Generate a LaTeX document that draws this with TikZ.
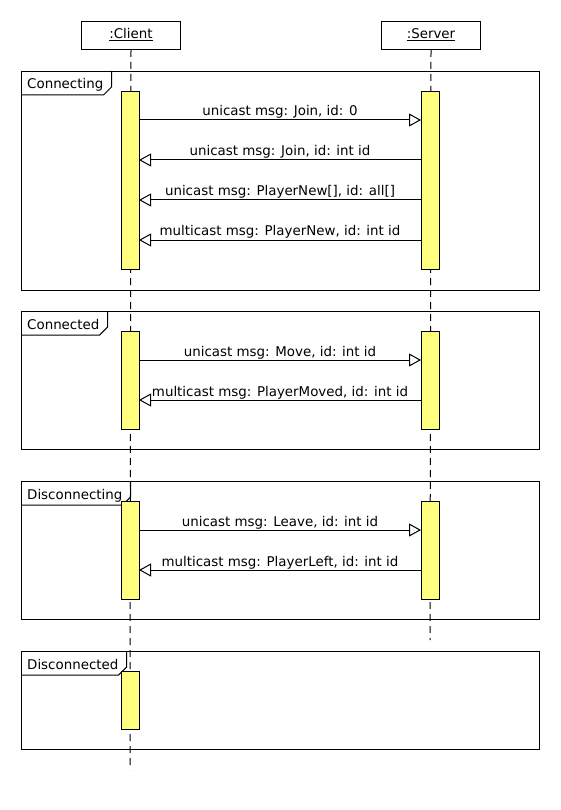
\documentclass[tikz,border=0pt]{standalone}
\usepackage{fontspec}
\setmainfont{DejaVu Sans}
\usetikzlibrary{arrows.meta,calc}
\definecolor{actyellow}{RGB}{255,255,128}
\begin{document}
\begin{tikzpicture}[x=1pt,y=-1pt,
  every node/.style={font=\fontsize{13.4}{16}\selectfont},
  frame/.style={draw,line width=1pt,minimum width=518pt,anchor=north west,inner sep=0pt},
  framelab/.style={anchor=base west,inner sep=0pt},
  obj/.style={draw,line width=1pt,minimum width=99pt,minimum height=28pt,anchor=north west,inner sep=0pt},
  act/.style={draw,line width=1pt,fill=actyellow,minimum width=18pt,anchor=north,inner sep=0pt},
  life/.style={line width=1pt,dash pattern=on 7pt off 5pt},
  msg/.style={line width=1pt,-{Triangle[length=12pt,width=13pt,fill=white]}},
  msglab/.style={midway,anchor=base,yshift=4pt,inner sep=0pt}]
\useasboundingbox (0,0) rectangle (560,810);
% frames
\node[frame,minimum height=219pt] (f1) at (21,71) {};
\node[frame,minimum height=138pt] (f2) at (21,311) {};
\node[frame,minimum height=138pt] (f3) at (21,481) {};
\node[frame,minimum height=98pt] (f4) at (21,651) {};
\node[framelab] (l1) at (27,89) {Connecting};
\node[framelab] (l2) at (27,329) {Connected};
\node[framelab] (l3) at (27,499) {Disconnecting};
\node[framelab] (l4) at (27,669) {Disconnected};
\foreach \f/\l in {f1/l1,f2/l2,f3/l3,f4/l4}{
  \draw[line width=1pt] let \p1=(\l.east), \p2=(\f.north west) in
    (\x2,\y2-24pt) -- (\x1-0pt,\y2-24pt) -- (\x1+8pt,\y2-16pt) -- (\x1+8pt,\y2);
}
% objects
\node[obj] (client) at (81,21) {};
\node[obj] (server) at (381,21) {};
\node[anchor=base,inner sep=0pt] (clientlab) at ($(client.center)+(0,3)$) {\underline{:Client}};
\node[anchor=base,inner sep=0pt] (serverlab) at ($(server.center)+(0,3)$) {\underline{:Server}};
\coordinate (clientend) at (130,770);
\coordinate (serverend) at (430,640);
\draw[life] (client.south) -- (clientend);
\draw[life] (server.south) -- (serverend);
% activations
\node[act,minimum height=178pt] (c1) at (130,91) {};
\node[act,minimum height=178pt] (s1) at (430,91) {};
\node[act,minimum height=98pt] (c2) at (130,331) {};
\node[act,minimum height=98pt] (s2) at (430,331) {};
\node[act,minimum height=98pt] (c3) at (130,501) {};
\node[act,minimum height=98pt] (s3) at (430,501) {};
\node[act,minimum height=58pt] (c4) at (130,671) {};
% message end points
\foreach \n/\y in {1/120,2/160,3/200,4/240,5/360,6/400,7/530,8/570}{
  \coordinate (a\n) at (139,\y);
  \coordinate (b\n) at (421,\y);
}
\draw[msg] (a1) -- (b1) node[msglab] (t1) {unicast msg: Join, id: 0};
\draw[msg] (b2) -- (a2) node[msglab] (t2) {unicast msg: Join, id: int id};
\draw[msg] (b3) -- (a3) node[msglab] (t3) {unicast msg: PlayerNew[], id: all[]};
\draw[msg] (b4) -- (a4) node[msglab] (t4) {multicast msg: PlayerNew, id: int id};
\draw[msg] (a5) -- (b5) node[msglab] (t5) {unicast msg: Move, id: int id};
\draw[msg] (b6) -- (a6) node[msglab] (t6) {multicast msg: PlayerMoved, id: int id};
\draw[msg] (a7) -- (b7) node[msglab] (t7) {unicast msg: Leave, id: int id};
\draw[msg] (b8) -- (a8) node[msglab] (t8) {multicast msg: PlayerLeft, id: int id};
\end{tikzpicture}
\end{document}
